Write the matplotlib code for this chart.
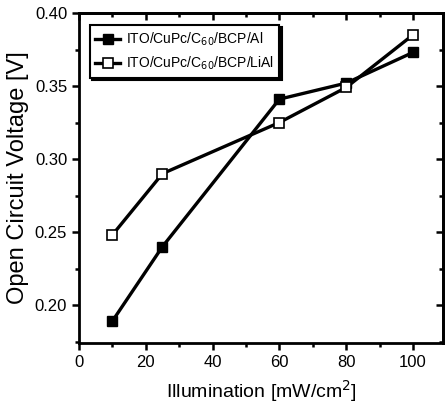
import numpy as np
import matplotlib
matplotlib.use('Agg')
import matplotlib.pyplot as plt
from matplotlib.ticker import MultipleLocator

plt.rcParams['font.family'] = ['Liberation Sans Narrow', 'Liberation Sans', 'DejaVu Sans']

illum = [10, 25, 60, 80, 100]
voc_al = [0.189, 0.240, 0.341, 0.352, 0.373]
voc_lial = [0.248, 0.290, 0.325, 0.349, 0.385]
label_al = r'ITO/CuPc/C$_{60}$/BCP/Al'
label_lial = r'ITO/CuPc/C$_{60}$/BCP/LiAl'

fig = plt.figure(figsize=(4.45, 4.17), dpi=100)
ax = fig.add_axes([0.1775, 0.1775, 0.818, 0.7913])

ax.plot(illum, voc_al, color='black', lw=2.4, marker='s', ms=7.5,
        mfc='black', mec='black', label=label_al)
ax.plot(illum, voc_lial, color='black', lw=2.4, marker='s', ms=7.5,
        mfc='white', mec='black', mew=1.2, label=label_lial)

ax.set_xlim(0, 109)
ax.set_ylim(0.174, 0.40)
ax.xaxis.set_major_locator(MultipleLocator(20))
ax.xaxis.set_minor_locator(MultipleLocator(10))
ax.yaxis.set_major_locator(MultipleLocator(0.05))
ax.yaxis.set_minor_locator(MultipleLocator(0.025))
ax.set_yticks([0.20, 0.25, 0.30, 0.35, 0.40])
ax.set_yticklabels(['0.20', '0.25', '0.30', '0.35', '0.40'])
ax.set_xticks([0, 20, 40, 60, 80, 100])

for sp in ax.spines.values():
    sp.set_linewidth(2.0)

ax.tick_params(axis='both', which='both', width=1.8, labelsize=12)
ax.tick_params(axis='both', which='major', length=5)
ax.tick_params(axis='both', which='minor', length=3)
ax.tick_params(axis='x', which='both', direction='out', top=False)
ax.tick_params(axis='y', which='both', direction='out', right=False)

# inward ticks on top and right
ax2 = ax.secondary_xaxis('top')
ax2.xaxis.set_major_locator(MultipleLocator(20))
ax2.xaxis.set_minor_locator(MultipleLocator(10))
ax2.tick_params(which='both', direction='in', width=1.8, labeltop=False)
ax2.tick_params(which='major', length=5)
ax2.tick_params(which='minor', length=3)
ax2.spines['top'].set_linewidth(2.0)
ax3 = ax.secondary_yaxis('right')
ax3.yaxis.set_major_locator(MultipleLocator(0.05))
ax3.yaxis.set_minor_locator(MultipleLocator(0.025))
ax3.tick_params(which='both', direction='in', width=1.8, labelright=False)
ax3.tick_params(which='major', length=5)
ax3.tick_params(which='minor', length=3)
ax3.spines['right'].set_linewidth(2.0)

ax.set_xlabel('Illumination [mW/cm$^2$]', fontsize=14, labelpad=6)
ax.set_ylabel('Open Circuit Voltage [V]', fontsize=17, labelpad=4)

leg = ax.legend(loc='upper left', bbox_to_anchor=(0.01, 0.985), fontsize=10,
                frameon=True, fancybox=False,
                shadow={'color': 'black', 'alpha': 1.0, 'ox': 1.8, 'oy': -1.8},
                handlelength=1.8, handletextpad=0.4, borderpad=0.4,
                labelspacing=0.5)
leg.get_frame().set_edgecolor('black')
leg.get_frame().set_linewidth(1.5)

plt.savefig('out.png', dpi=100)
